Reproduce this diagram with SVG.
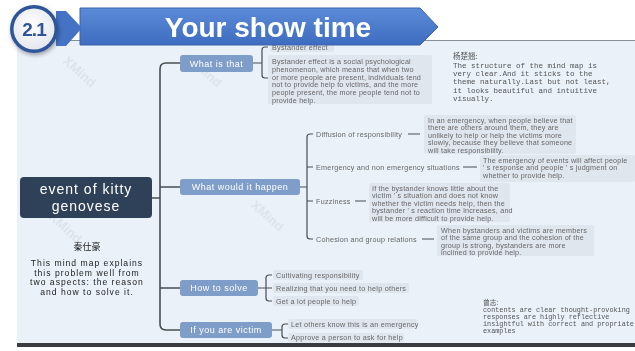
<svg xmlns="http://www.w3.org/2000/svg" width="635" height="351" viewBox="0 0 635 351">
<defs>
<linearGradient id="ban" x1="0" y1="0" x2="0" y2="1">
<stop offset="0" stop-color="#5B8BD8"/><stop offset="1" stop-color="#3E6CC0"/>
</linearGradient>
<radialGradient id="circ" cx="0.45" cy="0.4" r="0.6">
<stop offset="0" stop-color="#FFFFFF"/><stop offset="1" stop-color="#E4E8EE"/>
</radialGradient>
<filter id="sh" x="-30%" y="-30%" width="160%" height="160%">
<feDropShadow dx="1" dy="2" stdDeviation="2" flood-color="#000" flood-opacity="0.35"/>
</filter>
</defs>
<style>
.br{fill:#7F9DC9}
.brt{font-family:"Liberation Sans",Arial,sans-serif;font-size:9px;fill:#fff;letter-spacing:0.5px}
.lb{fill:#E0E6EE}
.t{font-family:"Liberation Sans",Arial,sans-serif;font-size:7.2px;fill:#666;letter-spacing:0.25px}
.d{font-family:"Liberation Sans",Arial,sans-serif;font-size:7.2px;fill:#666;letter-spacing:0.2px}
.c{fill:none;stroke:#4a4d52;stroke-width:1.2}
.ct{fill:none;stroke:#4a4d52;stroke-width:1.6}
.m{font-family:"Liberation Mono","Noto Sans CJK SC",monospace;fill:#555}
.wm{font-family:"Liberation Sans",Arial,sans-serif;font-size:13px;fill:#D8E0E9;font-weight:bold}
</style>
<rect width="635" height="351" fill="#fff"/>
<rect x="17" y="40" width="618" height="303" fill="#EAF1F9"/>
<rect x="17" y="343" width="618" height="4" fill="#3A3C40"/>
<g id="watermarks" opacity="0.8">
<text class="wm" transform="translate(62,62) rotate(42)">XMind</text>
<text class="wm" transform="translate(48,218) rotate(42)">XMind</text>
<text class="wm" transform="translate(250,206) rotate(42)">XMind</text>
<text class="wm" transform="translate(188,62) rotate(42)">XMind</text>
</g>
<g id="connectors">
<path class="ct" d="M180,63 H166 Q160,63 160,69 V324 Q160,330 166,330 H180"/>
<path class="ct" d="M152,198 H160 M160,187 H180 M160,288 H180"/>
<path class="c" d="M253,63 H262 M268,47 H265 Q262,47 262,50 V75 Q262,78 265,78 H268"/>
<path class="c" d="M300,187 H307 M313,134 H310 Q307,134 307,137 V236 Q307,239 310,239 H313 M307,167 H313 M307,201 H313"/>
<path class="c" d="M408,134 H420 M463,167 H477 M355,201 H366 M422,239 H434"/>
<path class="c" d="M258,288 H266 M272,275 H269 Q266,275 266,278 V298 Q266,301 269,301 H272 M266,288 H272"/>
<path class="c" d="M272,330 H282 M288,324 H285 Q282,324 282,327 V335 Q282,338 285,338 H288"/>
</g>
<g id="central">
<rect x="20" y="177" width="132" height="41" rx="4" fill="#2F4158"/>
<text x="86" y="194" text-anchor="middle" font-family="'Liberation Sans',Arial,sans-serif" font-size="14" letter-spacing="1" fill="#fff">event of kitty</text>
<text x="86" y="211" text-anchor="middle" font-family="'Liberation Sans',Arial,sans-serif" font-size="14" letter-spacing="1" fill="#fff">genovese</text>
</g>
<g id="what-is-that">
<rect class="br" x="180" y="55" width="73" height="17" rx="3"/>
<text class="brt" x="216.5" y="66.5" text-anchor="middle">What is that</text>
</g>
<g id="bystander-effect">
<rect class="lb" x="270" y="43" width="64" height="9" rx="2"/>
<text class="t" x="272" y="49.8">Bystander effect</text>
</g>
<g id="bystander-def">
<rect class="lb" x="268" y="55" width="164" height="49" rx="2"/>
<text class="d" x="272" y="64">Bystander effect is a social psychological</text>
<text class="d" x="272" y="71.8">phenomenon, which means that when two</text>
<text class="d" x="272" y="79.6">or more people are present, individuals tend</text>
<text class="d" x="272" y="87.4">not to provide help to victims, and the more</text>
<text class="d" x="272" y="95.2">people present, the more people tend not to</text>
<text class="d" x="272" y="103">provide help.</text>
</g>
<g id="what-would">
<rect class="br" x="180" y="179" width="120" height="16" rx="3"/>
<text class="brt" x="240" y="190.2" text-anchor="middle">What would it happen</text>
</g>
<g id="diffusion">
<text class="t" x="316" y="136.5">Diffusion of responsibility</text>
<rect class="lb" x="424" y="115" width="152" height="39" rx="2"/>
<text class="d" x="428" y="122.5">In an emergency, when people believe that</text>
<text class="d" x="428" y="130">there are others around them, they are</text>
<text class="d" x="428" y="137.5">unlikely to help or help the victims more</text>
<text class="d" x="428" y="145">slowly, because they believe that someone</text>
<text class="d" x="428" y="152.5">will take responsibility.</text>
</g>
<g id="emergency">
<text class="t" x="316" y="169.5">Emergency and non emergency situations</text>
<rect class="lb" x="480" y="155" width="155" height="27" rx="2"/>
<text class="d" x="483" y="162.5">The emergency of events will affect people</text>
<text class="d" x="483" y="170">' s response and people ' s judgment on</text>
<text class="d" x="483" y="177.5">whether to provide help.</text>
</g>
<g id="fuzziness">
<text class="t" x="316" y="203.5">Fuzziness</text>
<rect class="lb" x="369" y="183" width="141" height="39" rx="2"/>
<text class="d" x="372" y="190.5">If the bystander knows little about the</text>
<text class="d" x="372" y="198">victim ' s situation and does not know</text>
<text class="d" x="372" y="205.5">whether the victim needs help, then the</text>
<text class="d" x="372" y="213">bystander ' s reaction time increases, and</text>
<text class="d" x="372" y="220.5">will be more difficult to provide help.</text>
</g>
<g id="cohesion">
<text class="t" x="316" y="241.5">Cohesion and group relations</text>
<rect class="lb" x="437" y="225" width="157" height="31" rx="2"/>
<text class="d" x="441" y="232.5">When bystanders and victims are members</text>
<text class="d" x="441" y="240">of the same group and the cohesion of the</text>
<text class="d" x="441" y="247.5">group is strong, bystanders are more</text>
<text class="d" x="441" y="255">inclined to provide help.</text>
</g>
<g id="how-to-solve">
<rect class="br" x="180" y="280" width="78" height="16" rx="3"/>
<text class="brt" x="219" y="291.2" text-anchor="middle">How to solve</text>
</g>
<g id="solve-items">
<rect class="lb" x="273" y="270" width="90" height="10" rx="2"/>
<text class="t" x="276" y="277.5">Cultivating responsibility</text>
<rect class="lb" x="273" y="283" width="136" height="10" rx="2"/>
<text class="t" x="276" y="290.5">Realizing that you need to help others</text>
<rect class="lb" x="273" y="296" width="86" height="10" rx="2"/>
<text class="t" x="276" y="303.5">Get a lot people to help</text>
</g>
<g id="victim">
<rect class="br" x="180" y="322" width="92" height="16" rx="3"/>
<text class="brt" x="226" y="333.2" text-anchor="middle">If you are victim</text>
</g>
<g id="victim-items">
<rect class="lb" x="288" y="319" width="129" height="10" rx="2"/>
<text class="t" x="291" y="326.5">Let others know this is an emergency</text>
<rect class="lb" x="288" y="333" width="116" height="9.5" rx="2"/>
<text class="t" x="291" y="340.3">Approve a person to ask for help</text>
</g>
<g id="note-left" font-family="'Liberation Sans','Noto Sans CJK SC',sans-serif" text-anchor="middle" fill="#222">
<text x="87" y="250" font-size="9">秦仕豪</text>
<text x="87" y="266" font-size="8.6" letter-spacing="1">This mind map explains</text>
<text x="87" y="275.7" font-size="8.6" letter-spacing="1">this problem well from</text>
<text x="87" y="285.4" font-size="8.6" letter-spacing="1">two aspects: the reason</text>
<text x="87" y="295.1" font-size="8.6" letter-spacing="1">and how to solve it.</text>
</g>
<g id="note-top" class="m" font-size="7.5">
<text x="453" y="59" font-family="'Noto Sans CJK SC',sans-serif" font-size="7.5">杨楚翘:</text>
<text x="453" y="68">The structure of the mind map is</text>
<text x="453" y="76.2">very clear.And it sticks to the</text>
<text x="453" y="84.4">theme naturally.Last but not least,</text>
<text x="453" y="92.6">it looks beautiful and intuitive</text>
<text x="453" y="100.8">visually.</text>
</g>
<g id="note-bottom" class="m" font-size="6.8">
<text x="483" y="305" font-family="'Noto Sans CJK SC',sans-serif" font-size="6.8">曾志:</text>
<text x="483" y="312">contents are clear thought-provoking</text>
<text x="483" y="319">responses are highly reflective</text>
<text x="483" y="326">insightful with correct and propriate</text>
<text x="483" y="333">examples</text>
</g>
<g id="header">
<rect x="0" y="0" width="635" height="40" fill="#fff"/>
<line x1="60" y1="40.5" x2="635" y2="40.5" stroke="#8A8F96" stroke-width="1"/>
<polygon points="80,8 420,8 438,27 420,45 80,45" fill="url(#ban)" stroke="#3A62AA" stroke-width="1"/>
<text x="268" y="36.5" text-anchor="middle" font-family="'Liberation Sans',Arial,sans-serif" font-size="28" font-weight="bold" fill="#fff">Your show time</text>
<polygon points="56,11 66,11 82,28 66,46 56,46" fill="#4472C4"/>
<circle cx="34" cy="29" r="24" fill="#2F5597" filter="url(#sh)"/>
<circle cx="34" cy="29" r="20.5" fill="url(#circ)"/>
<text x="34" y="36" text-anchor="middle" font-family="'Liberation Sans',Arial,sans-serif" font-size="19" font-weight="bold" fill="#2F5597" letter-spacing="-1">2.1</text>
</g>
</svg>
